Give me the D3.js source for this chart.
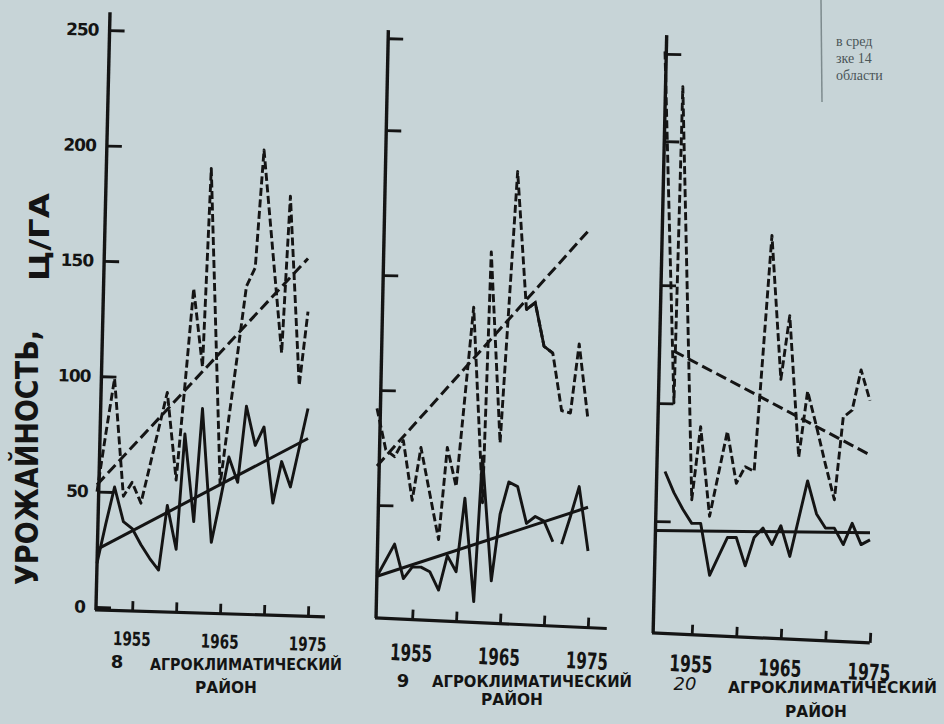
<!DOCTYPE html>
<html>
<head>
<meta charset="utf-8">
<script src="https://cdn.jsdelivr.net/npm/d3@7"></script>
<style>
html, body { margin: 0; padding: 0; background: #c7d4d7; }
svg { display: block; }
</style>
</head>
<body>
<svg width="944" height="724"></svg>
<script>
'use strict';

// 8th agroclimatic district
const years8 = [1951, 1952, 1953, 1954, 1955, 1956, 1957, 1958, 1959, 1960, 1961, 1962, 1963,
	1964, 1965, 1966, 1967, 1968, 1969, 1970, 1971, 1972, 1973, 1974, 1975];
const upper8 = [50, 75, 99, 48, 54, 45, 61, 77, 93, 55, 96, 138, 104,
	190, 53, 82, 110, 139, 147, 198, 154, 110, 178, 96, 128];
const lower8 = [19, 36, 52, 37, 34, 27, 21, 16, 44, 25, 75, 37, 86,
	28, 46, 65, 54, 87, 70, 78, 45, 63, 52, 69, 86];
const trendYears8 = [1951, 1975];
const trendUpper8 = [53, 151];
const trendLower8 = [25, 73];

// 9th agroclimatic district
const years9 = [1951, 1952, 1953, 1954, 1955, 1956, 1957, 1958, 1959, 1960, 1961, 1962, 1963,
	1964, 1965, 1966, 1967, 1968, 1969, 1970, 1971, 1972, 1973, 1974, 1975];
const upper9 = [92, 74, 71, 78, 52, 75, 55, 35, 75, 58, 97, 136, 51,
	160, 77, 136, 195, 135, 138, 119, 116, 91, 90, 120, 87];
const lower9 = [19, 26, 33, 18, 23, 23, 21, 13, 28, 21, 53, 8, 71,
	17, 46, 60, 58, 42, 45, 43, 34, 33, 45, 58, 30];
const trendYears9 = [1951, 1975];
const trendUpper9 = [67, 169];
const trendLower9 = [19, 49];

// 20th agroclimatic district
const years20 = [1952, 1953, 1954, 1955, 1956, 1957, 1958, 1959, 1960, 1961, 1962, 1963,
	1964, 1965, 1966, 1967, 1968, 1969, 1970, 1971, 1972, 1973, 1974, 1975];
const upper20 = [249, 100, 234, 59, 90, 52, 70, 88, 66, 73, 71, 121,
	171, 110, 137, 77, 105, 90, 74, 59, 94, 97, 114, 101];
const lower20 = [71, 62, 55, 49, 49, 27, 35, 43, 43, 31, 43, 47,
	40, 48, 35, 51, 67, 53, 47, 47, 40, 49, 40, 42];
const trendUpperYears20 = [1953, 1975];
const trendUpper20 = [122, 78];
const trendLowerYears20 = [1951, 1975];
const trendLower20 = [46, 45];

// axis ticks
const yTicks8 = [0, 50, 100, 150, 200, 250];
const yTicks9 = [50, 100, 150, 213, 253];
const yTicks20 = [50, 100, 150, 211, 248];
const xTicks = [1955, 1960, 1965, 1970, 1975];
const labelledYears = [1955, 1965, 1975];

const districtNames = ["8", "9", "20"];
const districtWord = "АГРОКЛИМАТИЧЕСКИЙ";
const districtWord2 = "РАЙОН";
const yTitle = "УРОЖАЙНОСТЬ,";
const yUnit = "Ц/ГА";

// scrap of the table above the figure, top right of the page
const cornerText = ["в сред", "зке 14", "области"];

const ink = "#141414";
const font = "'DejaVu Sans', 'Liberation Sans', sans-serif";

const svg = d3.select("svg");
svg.append("rect")
	.attr("width", 944)
	.attr("height", 724)
	.attr("fill", "#c7d4d7");

const panels = [
	{
		name: districtNames[0], years: years8, upper: upper8, lower: lower8,
		trendUpperYears: trendYears8, trendUpper: trendUpper8,
		trendLowerYears: trendYears8, trendLower: trendLower8,
		yTicks: yTicks8, yLabels: true,
		xStart: 97, xEnd: 308, yZero: 607, yTop: 30,
		axisX: 96, axisY: 610, axisHeight: 595, axisRight: 229,
		tiltY: 1.35, tiltX: 1.7,
		yearPad: 21, yearFont: 19, yearLen: 38,
		num: {x: 117, y: 668, italic: false},
		word: {x: 150, y: 670, len: 192},
		word2: {x: 226, y: 693}
	},
	{
		name: districtNames[1], years: years9, upper: upper9, lower: lower9,
		trendUpperYears: trendYears9, trendUpper: trendUpper9,
		trendLowerYears: trendYears9, trendLower: trendLower9,
		yTicks: yTicks9, yLabels: false,
		xStart: 377, xEnd: 588, yZero: 620, yTop: 45,
		axisX: 376, axisY: 618, axisHeight: 590, axisRight: 231,
		tiltY: 1.2, tiltX: 2.6,
		yearPad: 25, yearFont: 23, yearLen: 42,
		lowerBreak: 1971, upperSolid: [1968, 1971],
		num: {x: 403, y: 687, italic: false},
		word: {x: 432, y: 687, len: 200},
		word2: {x: 512, y: 705}
	},
	{
		name: districtNames[2], years: years20, upper: upper20, lower: lower20,
		trendUpperYears: trendUpperYears20, trendUpper: trendUpper20,
		trendLowerYears: trendLowerYears20, trendLower: trendLower20,
		yTicks: yTicks20, yLabels: false,
		xStart: 665, xEnd: 870, yZero: 639, yTop: 49,
		axisX: 653, axisY: 633, axisHeight: 604, axisRight: 217,
		tiltY: 1.3, tiltX: 2.6,
		yearPad: 21, yearFont: 23, yearLen: 43,
		num: {x: 685, y: 690, italic: true},
		word: {x: 728, y: 693, len: 209},
		word2: {x: 816, y: 717}
	}
];

drawCorner();
panels.forEach(drawPanel);
drawTitle();

function drawPanel(p) {
	const x = d3.scaleLinear()
		.domain(d3.extent(p.years))
		.range([p.xStart, p.xEnd]);
	const y = d3.scaleLinear()
		.domain([0, 250])
		.range([p.yZero, p.yTop]);

	const g = svg.append("g");

	// y axis, tilted like on the scanned page
	const yLocal = d3.scaleLinear().domain([0, 250]).range([0, p.yTop - p.yZero]);
	const yAxis = g.append("g")
		.attr("transform", `translate(${p.axisX},${p.yZero}) rotate(${p.tiltY})`)
		.call(d3.axisLeft(yLocal)
			.tickValues(p.yTicks)
			.tickSize(-15)
			.tickSizeOuter(0)
			.tickPadding(11)
			.tickFormat(p.yLabels ? d3.format("d") : () => ""));
	yAxis.select(".domain").remove();
	yAxis.append("line")
		.attr("y1", p.axisY - p.yZero)
		.attr("y2", -p.axisHeight)
		.attr("stroke", ink)
		.attr("stroke-width", 3.4);
	yAxis.selectAll(".tick line")
		.attr("stroke", ink)
		.attr("stroke-width", 2.8);
	yAxis.selectAll(".tick text")
		.attr("fill", ink)
		.attr("font-family", font)
		.attr("font-weight", "bold")
		.attr("font-size", 17)
		.attr("letter-spacing", -1);

	// x axis
	const xLocal = x.copy().range([p.xStart - p.axisX, p.xEnd - p.axisX]);
	const xAxis = g.append("g")
		.attr("transform", `translate(${p.axisX},${p.axisY}) rotate(${p.tiltX})`)
		.call(d3.axisBottom(xLocal)
			.tickValues(xTicks)
			.tickSize(-10)
			.tickSizeOuter(0)
			.tickPadding(p.yearPad)
			.tickFormat(d => labelledYears.includes(d) ? String(d) : ""));
	xAxis.select(".domain").remove();
	xAxis.append("line")
		.attr("x1", -1)
		.attr("x2", p.axisRight)
		.attr("stroke", ink)
		.attr("stroke-width", 3.2);
	xAxis.selectAll(".tick line")
		.attr("stroke", ink)
		.attr("stroke-width", 2.8);
	xAxis.selectAll(".tick text")
		.attr("fill", ink)
		.attr("font-family", font)
		.attr("font-weight", "bold")
		.attr("font-size", p.yearFont)
		.filter(d => labelledYears.includes(d))
		.attr("textLength", p.yearLen)
		.attr("lengthAdjust", "spacingAndGlyphs");

	const line = d3.line()
		.x(d => x(d.year))
		.y(d => y(d.value));

	const upperPts = p.years.map((yr, i) => ({year: yr, value: p.upper[i]}));
	const lowerPts = p.years.map((yr, i) => ({year: yr, value: p.lower[i]}));

	// dashed series
	g.append("path")
		.datum(upperPts)
		.attr("d", line)
		.attr("fill", "none")
		.attr("stroke", ink)
		.attr("stroke-width", 2.9)
		.attr("stroke-dasharray", "8,3.5")
		.attr("stroke-linejoin", "round");

	if (p.upperSolid) {
		g.append("path")
			.datum(upperPts.filter(d => d.year >= p.upperSolid[0] && d.year <= p.upperSolid[1]))
			.attr("d", line)
			.attr("fill", "none")
			.attr("stroke", ink)
			.attr("stroke-width", 2.9);
	}

	// solid series (one break in district 9)
	const lowerParts = p.lowerBreak
		? [lowerPts.filter(d => d.year <= p.lowerBreak), lowerPts.filter(d => d.year > p.lowerBreak)]
		: [lowerPts];
	g.selectAll(".lower")
		.data(lowerParts)
		.enter().append("path")
		.attr("class", "lower")
		.attr("d", line)
		.attr("fill", "none")
		.attr("stroke", ink)
		.attr("stroke-width", 2.9)
		.attr("stroke-linejoin", "round");

	// trend lines
	const trendUp = p.trendUpperYears.map((yr, i) => ({year: yr, value: p.trendUpper[i]}));
	const trendLow = p.trendLowerYears.map((yr, i) => ({year: yr, value: p.trendLower[i]}));
	g.append("path")
		.datum(trendUp)
		.attr("d", line)
		.attr("fill", "none")
		.attr("stroke", ink)
		.attr("stroke-width", 3)
		.attr("stroke-dasharray", "11,5");
	g.append("path")
		.datum(trendLow)
		.attr("d", line)
		.attr("fill", "none")
		.attr("stroke", ink)
		.attr("stroke-width", 3);

	// district caption
	g.append("text")
		.attr("x", p.num.x)
		.attr("y", p.num.y)
		.attr("text-anchor", "middle")
		.attr("font-family", font)
		.attr("font-weight", p.num.italic ? "normal" : "bold")
		.attr("font-size", 18)
		.attr("font-style", p.num.italic ? "italic" : "normal")
		.attr("fill", ink)
		.text(p.name);
	g.append("text")
		.attr("x", p.word.x)
		.attr("y", p.word.y)
		.attr("font-family", font)
		.attr("font-weight", "bold")
		.attr("font-size", 16)
		.attr("fill", ink)
		.attr("textLength", p.word.len)
		.attr("lengthAdjust", "spacingAndGlyphs")
		.text(districtWord);
	g.append("text")
		.attr("x", p.word2.x)
		.attr("y", p.word2.y)
		.attr("text-anchor", "middle")
		.attr("font-family", font)
		.attr("font-weight", "bold")
		.attr("font-size", 16)
		.attr("fill", ink)
		.attr("textLength", 62)
		.attr("lengthAdjust", "spacingAndGlyphs")
		.text(districtWord2);
}

function drawTitle() {
	svg.append("text")
		.attr("transform", "translate(38,585) rotate(-90)")
		.attr("font-family", font)
		.attr("font-weight", "bold")
		.attr("font-size", 32)
		.attr("fill", ink)
		.attr("textLength", 255)
		.attr("lengthAdjust", "spacingAndGlyphs")
		.text(yTitle);
	svg.append("text")
		.attr("transform", "translate(49,281) rotate(-90)")
		.attr("font-family", font)
		.attr("font-weight", "bold")
		.attr("font-size", 26)
		.attr("fill", ink)
		.attr("textLength", 88)
		.attr("lengthAdjust", "spacingAndGlyphs")
		.text(yUnit);
}

function drawCorner() {
	const corner = svg.append("g").attr("fill", "#4b5557");
	corner.append("line")
		.attr("x1", 821).attr("y1", 0)
		.attr("x2", 822).attr("y2", 102)
		.attr("stroke", "#7d8a8d")
		.attr("stroke-width", 1.5);
	corner.selectAll("text")
		.data(cornerText)
		.enter().append("text")
		.attr("x", 836)
		.attr("y", (d, i) => 46 + i * 17)
		.attr("font-family", "'Liberation Serif', serif")
		.attr("font-size", 14)
		.text(d => d);
}
</script>
</body>
</html>
